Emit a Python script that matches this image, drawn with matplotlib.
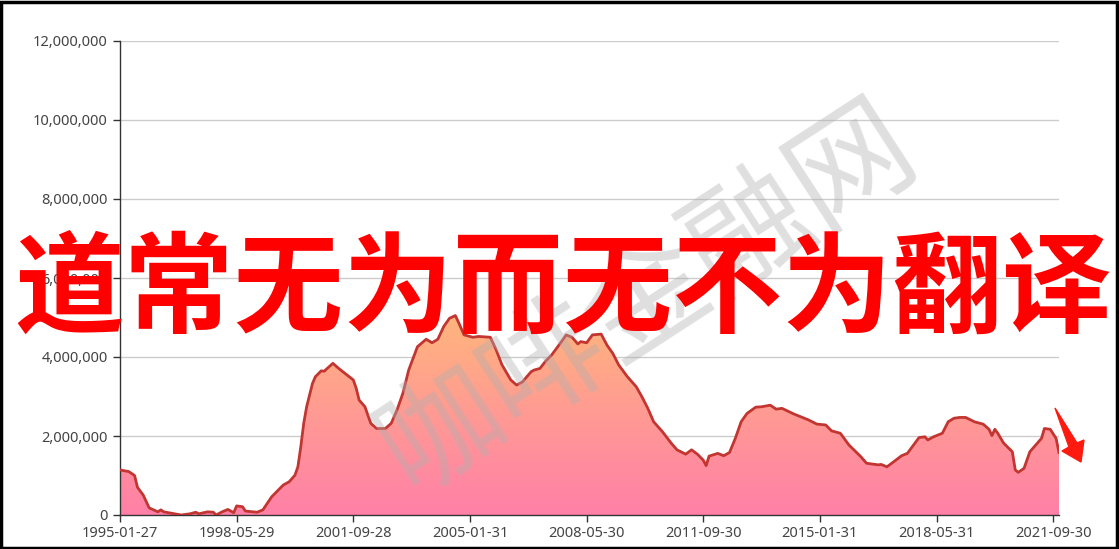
import numpy as np
import matplotlib
matplotlib.use("Agg")
import matplotlib.pyplot as plt
from matplotlib.colors import LinearSegmentedColormap
from matplotlib.patches import Polygon, Rectangle

plt.rcParams['font.family'] = ['Noto Sans', 'Noto Sans CJK SC', 'DejaVu Sans']

# month offset from 1995-01 and value (millions)
months = [0, 3, 5, 6, 8, 10, 13, 14, 15, 18, 21, 24, 26, 27, 30, 32, 33, 35, 37, 39,
          40, 42, 43, 47, 49, 52, 56, 58, 60, 61, 62, 63, 64, 66, 67, 69, 70, 73, 75, 80,
          81, 82, 84, 86, 88, 91, 93, 95, 97, 99, 102, 105, 107, 109, 111, 113, 115, 116, 118, 121,
          123, 127, 129, 131, 134, 136, 138, 141, 142, 144, 146, 148, 151, 153, 155, 157, 158, 160, 162, 165,
          167, 169, 171, 174, 177, 179, 181, 183, 186, 189, 191, 194, 196, 198, 200, 201, 202, 205, 207, 209,
          211, 213, 215, 218, 220, 223, 225, 227, 231, 236, 239, 242, 244, 247, 250, 254, 256, 260, 261, 263,
          265, 268, 270, 273, 274, 276, 277, 279, 281, 282, 284, 286, 288, 290, 293, 296, 298, 299, 300, 301,
          303, 306, 307, 308, 310, 312, 314, 316, 317, 319, 321, 322]
values = [1.14, 1.10, 1.00, 0.70, 0.50, 0.18, 0.08, 0.13, 0.08, 0.04, 0.00, 0.03, 0.07, 0.03, 0.08, 0.07, 0.00, 0.08, 0.14, 0.06,
          0.23, 0.21, 0.10, 0.07, 0.13, 0.46, 0.76, 0.84, 1.01, 1.22, 1.73, 2.32, 2.74, 3.33, 3.50, 3.65, 3.64, 3.84, 3.71, 3.42,
          3.21, 2.91, 2.74, 2.32, 2.19, 2.19, 2.32, 2.66, 3.08, 3.67, 4.26, 4.45, 4.36, 4.45, 4.77, 4.98, 5.05, 4.89, 4.56, 4.50,
          4.52, 4.50, 4.18, 3.80, 3.42, 3.29, 3.37, 3.63, 3.67, 3.71, 3.90, 4.05, 4.35, 4.56, 4.50, 4.33, 4.39, 4.36, 4.56, 4.58,
          4.30, 4.09, 3.80, 3.50, 3.25, 2.99, 2.70, 2.36, 2.11, 1.82, 1.65, 1.54, 1.65, 1.54, 1.39, 1.25, 1.49, 1.56, 1.50, 1.58,
          1.94, 2.36, 2.57, 2.73, 2.74, 2.78, 2.68, 2.70, 2.56, 2.41, 2.30, 2.28, 2.13, 2.07, 1.77, 1.48, 1.31, 1.27, 1.28, 1.22,
          1.33, 1.50, 1.56, 1.86, 1.96, 1.98, 1.90, 1.98, 2.04, 2.07, 2.36, 2.45, 2.47, 2.47, 2.36, 2.30, 2.17, 2.01, 2.17, 2.07,
          1.82, 1.60, 1.14, 1.08, 1.18, 1.60, 1.77, 1.94, 2.19, 2.17, 1.94, 1.58]

tick_months = [0, 40, 80, 120, 160, 200, 240, 280, 320]
tick_labels = ['1995-01-27', '1998-05-29', '2001-09-28', '2005-01-31', '2008-05-30',
               '2011-09-30', '2015-01-31', '2018-05-31', '2021-09-30']
y_ticks = [0, 2000000, 4000000, 6000000, 8000000, 10000000, 12000000]

title_text = '道常无为而无不为翻译'
watermark = '咖啡金融网'

x = np.array(months, dtype=float)
y = np.array(values) * 1e6

W, H = 1119, 549
fig = plt.figure(figsize=(W / 100, H / 100), dpi=100)
ax = fig.add_axes([120 / W, (H - 515) / H, (1059 - 120) / W, (515 - 41) / H])

# gradient area
cmap = LinearSegmentedColormap.from_list('g', ['#ff80a8', '#ff9a94', '#ffb57c'])
grad = np.linspace(0, 1, 256).reshape(-1, 1)
img = ax.imshow(grad, cmap=cmap, aspect='auto', origin='lower',
                extent=[x[0], x[-1], 0, y.max()], zorder=1)
poly = Polygon(np.column_stack([np.r_[x, x[-1], x[0]], np.r_[y, 0, 0]]),
               closed=True, facecolor='none', edgecolor='none')
ax.add_patch(poly)
img.set_clip_path(poly)
ax.plot(x, y, color='#c23531', lw=2, zorder=3, solid_joinstyle='round')

ax.set_xlim(0, x[-1])
ax.set_ylim(0, 12000000)
ax.set_yticks(y_ticks)
ax.set_yticklabels([f'{v:,}' for v in y_ticks])
ax.set_xticks(tick_months)
ax.set_xticklabels(tick_labels)
ax.grid(axis='y', color='#cccccc', lw=1, zorder=0)
ax.set_axisbelow(True)
for s in ['top', 'right']:
    ax.spines[s].set_visible(False)
for s in ['left', 'bottom']:
    ax.spines[s].set_color('#333333')
    ax.spines[s].set_linewidth(1)
ax.tick_params(axis='both', colors='#333333', labelcolor='#444444', labelsize=10.5,
               length=5, width=1)
ax.tick_params(axis='y', pad=4)
ax.tick_params(axis='x', pad=3)

# watermark
fig.text(648 / W, 1 - 298 / H, watermark, rotation=33, ha='center', va='center',
         fontsize=88, color='#b0b0b0', alpha=0.4, family=['Noto Sans CJK SC'],
         fontweight='light', zorder=5)

# big red overlay text
fig.text(563 / W, 1 - 292 / H, title_text, ha='center', va='center', fontsize=79,
         color='#ff0000', family=['Noto Sans CJK SC'], fontweight='bold', zorder=6)

# red arrow
arrow = np.array([[1055, 408], [1069, 447], [1062, 451], [1081, 462],
                  [1084, 440], [1077, 443]])
fig.patches.append(Polygon(np.column_stack([arrow[:, 0] / W, 1 - arrow[:, 1] / H]),
                           closed=True, transform=fig.transFigure, color='#ff1a10',
                           zorder=6))

# frame
fig.patches.append(Rectangle((0.001, 0.002), 0.997, 0.995, transform=fig.transFigure,
                             fill=False, edgecolor='black', lw=2.5))

fig.savefig('out.png', dpi=100)
